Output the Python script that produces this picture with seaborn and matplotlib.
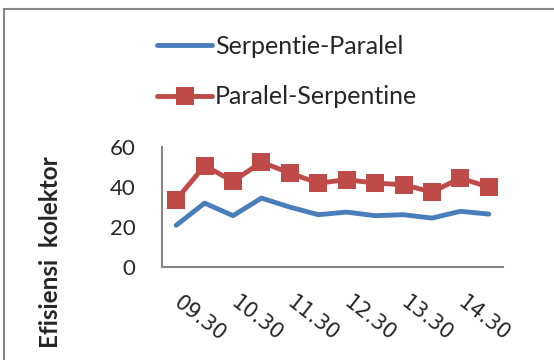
import matplotlib
matplotlib.use("Agg")
import matplotlib.pyplot as plt
import numpy as np
import pandas as pd
import seaborn as sns
from matplotlib.patches import Rectangle

# data
waktu = ["09.30", "10.00", "10.30", "11.00", "11.30", "12.00",
         "12.30", "13.00", "13.30", "14.00", "14.30", "15.00"]
serpentie_paralel = [20.7, 31.8, 25.5, 34.3, 29.8, 26.0, 27.3, 25.5, 26.0, 24.3, 27.7, 26.3]
paralel_serpentine = [33.5, 50.5, 42.7, 52.3, 46.8, 41.8, 43.5, 41.8, 41.0, 37.3, 44.3, 39.8]
yticks = [0, 20, 40, 60]

sns.set_theme(style="white")
plt.rcParams["font.family"] = ["Lato", "DejaVu Sans"]

df = pd.DataFrame({"idx": np.arange(len(waktu)),
                   "Serpentie-Paralel": serpentie_paralel,
                   "Paralel-Serpentine": paralel_serpentine})

fig = plt.figure(figsize=(5.54, 3.6), dpi=100)
ax = fig.add_axes([162 / 554, 1 - 266.7 / 360, 341 / 554, 120 / 360])

sns.lineplot(data=df, x="idx", y="Serpentie-Paralel", ax=ax, color="#4A7EBB",
             lw=3.5, label="Serpentie-Paralel")
sns.lineplot(data=df, x="idx", y="Paralel-Serpentine", ax=ax, color="#BE4B48",
             lw=3.5, marker="s", markersize=13, markeredgewidth=0,
             label="Paralel-Serpentine")

ax.set_xlim(-0.5, len(waktu) - 0.5)
ax.set_ylim(0, 60)
ax.set_yticks(yticks)
ax.set_yticklabels([str(v) for v in yticks], fontsize=16)
ax.set_xticks(df["idx"][::2])
ax.set_xticklabels(waktu[::2], fontsize=15, family="DejaVu Sans",
                   rotation=-38, ha="left", va="center", rotation_mode="anchor")
ax.tick_params(axis="y", length=0, pad=19)
ax.tick_params(axis="x", length=0, pad=24)
ax.set_xlabel("")
ax.set_ylabel("Efisiensi  kolektor", fontsize=17.5, fontweight="bold")
ax.yaxis.set_label_coords(-0.293, 0.123)

for s in ["top", "right"]:
    ax.spines[s].set_visible(False)
for s in ["left", "bottom"]:
    ax.spines[s].set_color("#868686")
    ax.spines[s].set_linewidth(1.5)

handles, labels = ax.get_legend_handles_labels()
ax.get_legend().remove()
fig.legend(handles, labels, loc="upper left", bbox_to_anchor=(157 / 554, 1 - 35 / 360),
           frameon=False, fontsize=18, handlelength=2.2, handletextpad=0.12,
           labelspacing=1.1, borderpad=0, borderaxespad=0)

# chart border
fig.patches.append(Rectangle((4 / 554, -0.1), 1.2, 1 - 9 / 360 + 0.1, fill=False,
                             edgecolor="#868686", lw=1.5, transform=fig.transFigure))

fig.savefig("out.png", dpi=100)
